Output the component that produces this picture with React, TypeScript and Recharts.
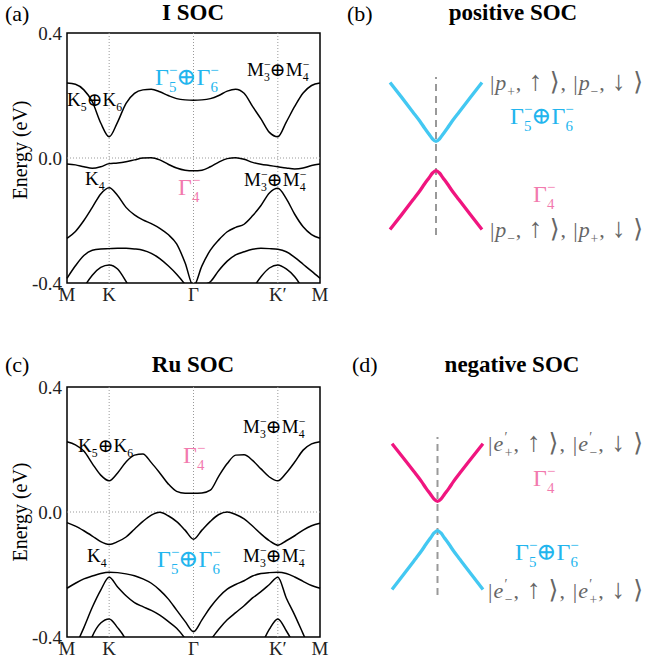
import React from "react";
import { LineChart, Line, XAxis, YAxis, ReferenceLine, ReferenceArea } from "recharts";

// k-path M-K-Γ-K'-M, |MK| = |KΓ|/2
const kPath = [0, 0.1, 0.2, 0.3, 0.4, 0.5, 0.6, 0.7, 0.8, 0.9, 1.0, 1.1, 1.2, 1.3, 1.4, 1.5, 1.6, 1.7, 1.8, 1.9, 2.0, 2.1, 2.2, 2.3, 2.4, 2.5, 2.6, 2.7, 2.8, 2.9, 3.0];
const kTicks = [0, 0.5, 1.5, 2.5, 3];
const kTickLabels = ["M", "K", "Γ", "K′", "M"];
const energyTicks = [-0.4, 0, 0.4];
const energyTickLabels = ["-0.4", "0.0", "0.4"];

// (a) I SOC bands (eV)
const iCond = [0.240, 0.236, 0.218, 0.180, 0.112, 0.068, 0.115, 0.175, 0.207, 0.218, 0.220, 0.212, 0.200, 0.190, 0.186, 0.185, 0.186, 0.190, 0.200, 0.214, 0.220, 0.207, 0.165, 0.125, 0.082, 0.068, 0.115, 0.165, 0.208, 0.232, 0.240];
const iVal1 = [-0.019, -0.022, -0.028, -0.033, -0.028, -0.018, -0.016, -0.012, -0.006, 0.000, 0.001, -0.006, -0.020, -0.032, -0.039, -0.041, -0.039, -0.028, -0.013, -0.002, 0.001, -0.004, -0.014, -0.020, -0.024, -0.028, -0.032, -0.035, -0.032, -0.024, -0.019];
const iVal2 = [-0.257, -0.235, -0.200, -0.158, -0.115, -0.095, -0.120, -0.158, -0.182, -0.198, -0.210, -0.225, -0.245, -0.275, -0.335, -0.410, -0.345, -0.295, -0.262, -0.236, -0.222, -0.212, -0.185, -0.152, -0.112, -0.097, -0.130, -0.180, -0.220, -0.245, -0.257];
const iVal3 = [-0.385, -0.345, -0.312, -0.295, -0.291, -0.290, -0.289, -0.289, -0.291, -0.295, -0.305, -0.322, -0.345, -0.372, -0.405, -0.450, -0.410, -0.396, -0.360, -0.330, -0.310, -0.300, -0.292, -0.289, -0.290, -0.292, -0.300, -0.318, -0.340, -0.362, -0.385];
const iVal4 = [null, -0.470, -0.415, -0.375, -0.350, -0.342, -0.355, -0.395, -0.445, null, null, null, null, null, null, null, null, null, null, null, null, -0.470, -0.420, -0.380, -0.352, -0.342, -0.355, -0.380, -0.420, -0.470, null];

// (c) Ru SOC bands (eV)
const ruCond = [0.225, 0.215, 0.195, 0.155, 0.118, 0.100, 0.125, 0.160, 0.182, 0.186, 0.158, 0.125, 0.090, 0.066, 0.060, 0.060, 0.061, 0.070, 0.115, 0.155, 0.182, 0.183, 0.165, 0.138, 0.112, 0.100, 0.125, 0.160, 0.198, 0.218, 0.225];
const ruVal1 = [-0.034, -0.045, -0.060, -0.077, -0.095, -0.104, -0.095, -0.080, -0.055, -0.030, -0.010, -0.001, -0.012, -0.031, -0.058, -0.087, -0.058, -0.030, -0.008, 0.000, -0.008, -0.022, -0.045, -0.070, -0.092, -0.106, -0.092, -0.076, -0.058, -0.044, -0.036];
const ruVal2 = [-0.244, -0.228, -0.214, -0.205, -0.197, -0.193, -0.194, -0.198, -0.204, -0.214, -0.228, -0.250, -0.278, -0.314, -0.350, -0.383, -0.345, -0.305, -0.272, -0.247, -0.232, -0.220, -0.205, -0.197, -0.194, -0.193, -0.197, -0.208, -0.222, -0.235, -0.244];
const ruVal3 = [null, -0.430, -0.370, -0.305, -0.250, -0.209, -0.240, -0.268, -0.290, -0.303, -0.315, -0.330, -0.350, -0.372, -0.405, -0.450, -0.440, -0.410, -0.375, -0.345, -0.322, -0.300, -0.275, -0.255, -0.232, -0.209, -0.275, -0.330, -0.390, -0.450, null];
const ruVal4 = [null, null, -0.480, -0.398, -0.355, -0.342, -0.370, -0.410, -0.480, null, null, null, null, null, null, null, null, null, null, null, null, null, -0.500, -0.430, -0.375, -0.342, -0.380, -0.430, -0.500, null, null];

// (b)/(d) schematic bands near Γ
const kLocal = [-1, -0.75, -0.5, -0.35, -0.25, -0.15, -0.075, 0, 0.075, 0.15, 0.25, 0.35, 0.5, 0.75, 1];
const posCyan = [0.93, 0.745, 0.555, 0.44, 0.355, 0.275, 0.215, 0.184, 0.215, 0.275, 0.355, 0.44, 0.555, 0.745, 0.93];
const posMagenta = [-0.93, -0.745, -0.555, -0.44, -0.355, -0.275, -0.215, -0.184, -0.215, -0.275, -0.355, -0.44, -0.555, -0.745, -0.93];
const negMagenta = [0.915, 0.735, 0.55, 0.435, 0.35, 0.272, 0.213, 0.184, 0.213, 0.272, 0.35, 0.435, 0.55, 0.735, 0.915];
const negCyan = [-0.93, -0.745, -0.555, -0.44, -0.355, -0.275, -0.215, -0.184, -0.215, -0.275, -0.355, -0.44, -0.555, -0.745, -0.93];

const CYAN = "#43c8f2";
const MAGENTA = "#f0157f";
const CYAN_TXT = "#22b5ee";
const PINK_TXT = "#f27aae";
const GREY_TXT = "#666";
const FONT = "'Liberation Serif', 'DejaVu Serif', serif";

const bandRows = (bands: Record<string, (number | null)[]>) =>
  kPath.map((k, i) => {
    const row: Record<string, number | null> = { k };
    Object.keys(bands).forEach((key) => (row[key] = bands[key][i]));
    return row;
  });

const iRows = bandRows({ c: iCond, v1: iVal1, v2: iVal2, v3: iVal3, v4: iVal4 });
const ruRows = bandRows({ c: ruCond, v1: ruVal1, v2: ruVal2, v3: ruVal3, v4: ruVal4 });
const posRows = kLocal.map((k, i) => ({ k, up: posCyan[i], down: posMagenta[i] }));
const negRows = kLocal.map((k, i) => ({ k, up: negMagenta[i], down: negCyan[i] }));

function BandPanel({ rows }: { rows: Record<string, number | null>[] }) {
  return (
    <LineChart width={330} height={320} data={rows} margin={{ top: 33, right: 10, bottom: 7, left: 7 }}>
      <XAxis
        type="number"
        dataKey="k"
        domain={[0, 3]}
        ticks={kTicks}
        interval={0}
        tickFormatter={(v: number) => kTickLabels[kTicks.indexOf(v)]}
        axisLine={false}
        tickLine={false}
        tickSize={2}
        tickMargin={3}
        height={30}
        tick={{ fontSize: 19, fill: "#222" }}
      />
      <YAxis
        type="number"
        domain={[-0.4, 0.4]}
        allowDataOverflow
        ticks={energyTicks}
        interval={0}
        tickFormatter={(v: number) => energyTickLabels[energyTicks.indexOf(v)]}
        axisLine={false}
        tickLine={false}
        tickSize={2}
        tickMargin={3}
        width={60}
        tick={{ fontSize: 19, fill: "#222" }}
      />
      {kTicks.slice(1, 4).map((k) => (
        <ReferenceLine key={k} x={k} stroke="#999" strokeDasharray="1 2" />
      ))}
      <ReferenceLine y={0} stroke="#999" strokeDasharray="1 2" />
      {["c", "v1", "v2", "v3", "v4"].map((key) => (
        <Line key={key} dataKey={key} type="monotone" stroke="#000" strokeWidth={1.5} dot={false} isAnimationActive={false} />
      ))}
      <ReferenceArea x1={0} x2={3} y1={-0.4} y2={0.4} fill="none" fillOpacity={0} stroke="#000" strokeWidth={1.5} />
    </LineChart>
  );
}

function Schematic({ rows, up, down, width }: { rows: any[]; up: string; down: string; width: number }) {
  return (
    <LineChart width={width} height={178} data={rows} margin={{ top: 10, right: 10, bottom: 10, left: 10 }}>
      <XAxis type="number" dataKey="k" domain={[-1, 1]} hide />
      <YAxis type="number" domain={[-1, 1]} hide />
      <ReferenceLine x={0} stroke="#999" strokeWidth={2} strokeDasharray="7 5" />
      <Line dataKey="up" type="monotone" stroke={up} strokeWidth={3.3} dot={false} isAnimationActive={false} />
      <Line dataKey="down" type="monotone" stroke={down} strokeWidth={3.3} dot={false} isAnimationActive={false} />
    </LineChart>
  );
}

type Part = string | { b: string; sub?: string; sup?: string; it?: boolean; s?: number };

// text with stacked sub/superscripts
function Formula({ x, y, parts, fs, fill, len }: { x: number; y: number; parts: Part[]; fs: number; fill: string; len?: number }) {
  const small = fs * 0.62;
  const spans: React.ReactNode[] = [];
  let off = 0;
  parts.forEach((p, i) => {
    if (typeof p === "string") {
      spans.push(<tspan key={i} dy={-off}>{p}</tspan>);
      off = 0;
      return;
    }
    spans.push(
      <tspan key={i + "b"} dy={-off} fontStyle={p.it ? "italic" : undefined} fontSize={p.s ? fs * p.s : undefined}>
        {p.b}
      </tspan>
    );
    off = 0;
    if (p.sup) {
      spans.push(<tspan key={i + "p"} dy={-0.42 * fs} fontSize={small}>{p.sup}</tspan>);
      off = -0.42 * fs;
      if (p.sub) {
        const w = (p.sup === "−" ? 0.56 : 0.28) * small;
        spans.push(<tspan key={i + "s"} dx={-w} dy={0.7 * fs} fontSize={small}>{p.sub}</tspan>);
        off = 0.28 * fs;
      }
    } else if (p.sub) {
      spans.push(<tspan key={i + "s"} dy={0.28 * fs} fontSize={small}>{p.sub}</tspan>);
      off = 0.28 * fs;
    }
  });
  return (
    <text x={x} y={y} fontSize={fs} fill={fill} textLength={len} lengthAdjust={len ? "spacing" : undefined}>
      {spans}
    </text>
  );
}

const up: Part = { b: "↑", s: 1.25 };
const down: Part = { b: "↓", s: 1.25 };
const ang: Part = { b: "⟩", s: 1.15 };

const K56: Part[] = [{ b: "K", sub: "5" }, "⊕", { b: "K", sub: "6" }];
const M34: Part[] = [{ b: "M", sub: "3", sup: "−" }, "⊕", { b: "M", sub: "4", sup: "−" }];
const K4: Part[] = [{ b: "K", sub: "4" }];
const G56: Part[] = [{ b: "Γ", sub: "5", sup: "−" }, "⊕", { b: "Γ", sub: "6", sup: "−" }];
const G4: Part[] = [{ b: "Γ", sub: "4", sup: "−" }];
const ketPUp: Part[] = ["|", { b: "p", sub: "+", it: true }, ", ", up, " ", ang, ", |", { b: "p", sub: "−", it: true }, ", ", down, " ", ang];
const ketPDown: Part[] = ["|", { b: "p", sub: "−", it: true }, ", ", up, " ", ang, ", |", { b: "p", sub: "+", it: true }, ", ", down, " ", ang];
const ketEUp: Part[] = ["|", { b: "e", sup: "′", sub: "+", it: true }, ", ", up, " ", ang, ", |", { b: "e", sup: "′", sub: "−", it: true }, ", ", down, " ", ang];
const ketEDown: Part[] = ["|", { b: "e", sup: "′", sub: "−", it: true }, ", ", up, " ", ang, ", |", { b: "e", sup: "′", sub: "+", it: true }, ", ", down, " ", ang];

export default function App() {
  return (
    <div style={{ position: "absolute", left: 0, top: 0, width: 647, height: 671, background: "#fff", fontFamily: FONT }}>
      <div style={{ position: "absolute", left: 0, top: 0 }}>
        <BandPanel rows={iRows} />
      </div>
      <div style={{ position: "absolute", left: 0, top: 354 }}>
        <BandPanel rows={ruRows} />
      </div>
      <div style={{ position: "absolute", left: 380, top: 67 }}>
        <Schematic rows={posRows} up={CYAN} down={MAGENTA} width={112} />
      </div>
      <div style={{ position: "absolute", left: 382, top: 427 }}>
        <Schematic rows={negRows} up={MAGENTA} down={CYAN} width={111} />
      </div>

      <svg width={647} height={671} style={{ position: "absolute", left: 0, top: 0, pointerEvents: "none" }}>
        <g fontSize={22} fill="#000">
          <text x={5} y={21}>(a)</text>
          <text x={5} y={372}>(c)</text>
          <text x={347} y={21}>(b)</text>
          <text x={352} y={372}>(d)</text>
        </g>
        <g fontSize={23} fontWeight="bold" textAnchor="middle" fill="#000">
          <text x={193} y={20}>I SOC</text>
          <text x={193} y={372}>Ru SOC</text>
          <text x={513} y={20}>positive SOC</text>
          <text x={512} y={372}>negative SOC</text>
        </g>
        <text x={27} y={150} fontSize={20} textAnchor="middle" transform="rotate(-90 27 150)">Energy (eV)</text>
        <text x={27} y={512} fontSize={20} textAnchor="middle" transform="rotate(-90 27 512)">Energy (eV)</text>

        {/* (a) */}
        <Formula x={67} y={106} parts={K56} fs={19} fill="#000" />
        <Formula x={247} y={76} parts={M34} fs={19} fill="#000" />
        <Formula x={85} y={185} parts={K4} fs={19} fill="#000" />
        <Formula x={244} y={186} parts={M34} fs={19} fill="#000" />
        <Formula x={155} y={85} parts={G56} fs={24} fill={CYAN_TXT} />
        <Formula x={178} y={195} parts={G4} fs={24} fill={PINK_TXT} />

        {/* (c) */}
        <Formula x={78} y={452} parts={K56} fs={19} fill="#000" />
        <Formula x={243} y={433} parts={M34} fs={19} fill="#000" />
        <Formula x={87} y={562} parts={K4} fs={19} fill="#000" />
        <Formula x={243} y={562} parts={M34} fs={19} fill="#000" />
        <Formula x={183} y={463} parts={G4} fs={24} fill={PINK_TXT} />
        <Formula x={157} y={567} parts={G56} fs={24} fill={CYAN_TXT} />

        {/* (b) */}
        <Formula x={490} y={90} parts={ketPUp} fs={22} fill={GREY_TXT} len={153} />
        <Formula x={510} y={124} parts={G56} fs={24} fill={CYAN_TXT} />
        <Formula x={533} y={202} parts={G4} fs={24} fill={PINK_TXT} />
        <Formula x={490} y={237} parts={ketPDown} fs={22} fill={GREY_TXT} len={153} />

        {/* (d) */}
        <Formula x={488} y={451} parts={ketEUp} fs={22} fill={GREY_TXT} len={155} />
        <Formula x={533} y={486} parts={G4} fs={24} fill={PINK_TXT} />
        <Formula x={515} y={560} parts={G56} fs={24} fill={CYAN_TXT} />
        <Formula x={488} y={598} parts={ketEDown} fs={22} fill={GREY_TXT} len={155} />
      </svg>
    </div>
  );
}
